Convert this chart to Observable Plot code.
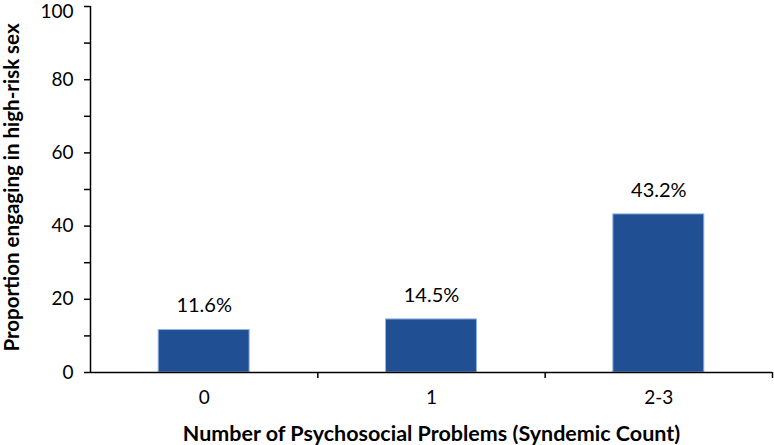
<!DOCTYPE html>
<html>
<head>
<meta charset="utf-8">
<script src="https://cdn.jsdelivr.net/npm/d3@7"></script>
<script src="https://cdn.jsdelivr.net/npm/@observablehq/plot@0.6"></script>
<style>
  html, body { margin: 0; padding: 0; background: #fff; }
  svg { display: block; }
</style>
</head>
<body>
<div id="chart"></div>
<script>
const categories = ["0", "1", "2-3"];
const values = [11.6, 14.5, 43.2];
const labels = ["11.6%", "14.5%", "43.2%"];
const yTicks = [0, 10, 20, 30, 40, 50, 60, 70, 80, 90, 100];
const xTitle = "Number of Psychosocial Problems (Syndemic Count)";
const yTitle = "Proportion engaging in high-risk sex";

const data = categories.map((c, i) => ({i, c, v: values[i], label: labels[i]}));
const boundaries = d3.range(categories.length + 1).map(k => k - 0.5);
const halfBar = 0.2;
const yMax = yTicks[yTicks.length - 1];
const font = "Lato, 'Open Sans', sans-serif";

const chart = Plot.plot({
  width: 774,
  height: 445,
  marginLeft: 90,
  marginRight: 2,
  marginTop: 6,
  marginBottom: 73,
  style: {fontFamily: font, color: "#000", background: "#fff"},
  x: {type: "linear", domain: [boundaries[0], boundaries[boundaries.length - 1]]},
  y: {domain: [0, yMax]},
  marks: [
    Plot.rectY(data, {
      x1: d => d.i - halfBar, x2: d => d.i + halfBar, y1: 0, y2: "v",
      fill: "#214f94", stroke: "#8fb3e0", strokeWidth: 1
    }),
    Plot.text(data, {
      x: "i", y: "v", text: "label", lineAnchor: "middle", dy: -24,
      fontSize: 20, fill: "#000"
    }),
    Plot.axisY({
      ticks: yTicks, tickSize: 6, tickPadding: 11, fontSize: 19,
      tickFormat: d => d % 20 === 0 && d !== yMax ? String(d) : "", label: null, strokeWidth: 1.5
    }),
    Plot.axisY({
      ticks: [yMax], tickSize: 0, tickPadding: 17, fontSize: 19, dy: 5,
      tickFormat: d => String(d), label: null
    }),
    Plot.axisX({
      ticks: boundaries.slice(1), tickSize: 6, tickFormat: () => "", label: null, strokeWidth: 1.5
    }),
    Plot.axisX({
      ticks: data.map(d => d.i), tickSize: 0, tickPadding: 18, fontSize: 19,
      tickFormat: i => categories[i], label: null
    }),
    Plot.ruleX([boundaries[0]], {y1: 0, y2: yMax, stroke: "#000", strokeWidth: 1.5}),
    Plot.ruleY([0], {stroke: "#000", strokeWidth: 1.5}),
    Plot.text([xTitle], {
      frameAnchor: "bottom", lineAnchor: "middle", dy: 62, fontSize: 21.5, fontWeight: "bold", fill: "#000"
    }),
    Plot.text([yTitle], {
      frameAnchor: "left", textAnchor: "middle", lineAnchor: "middle", rotate: -90, dx: -78, dy: -2,
      fontSize: 20.5, fontWeight: "bold", fill: "#000"
    })
  ]
});
document.getElementById("chart").append(chart);
</script>
</body>
</html>
